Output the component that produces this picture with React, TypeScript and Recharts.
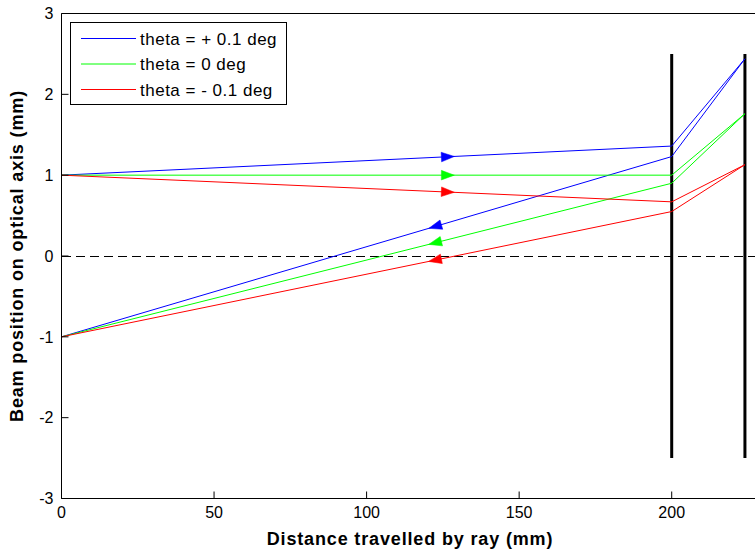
import React from 'react';
import {
  ComposedChart,
  Line,
  Scatter,
  XAxis,
  YAxis,
  ReferenceLine,
} from 'recharts';

// ray positions (mm) sampled at: start, first lens, second lens
const rayX = [0, 200, 224];
const blueUpper = [1.0, 1.36, 2.44];
const blueLower = [-1.0, 1.23, 2.44];
const greenUpper = [1.0, 1.0, 1.76];
const greenLower = [-1.0, 0.9, 1.76];
const redUpper = [1.0, 0.67, 1.13];
const redLower = [-1.0, 0.55, 1.13];

// lenses
const lensX = [200, 224];
const lensTop = 2.5;
const lensBottom = -2.5;

// direction arrows sitting on each ray
const arrowX = 124.5;
const blueArrowY = [1.224, 0.388];
const greenArrowY = [1.0, 0.183];
const redArrowY = [0.795, -0.035];
const arrowDir = [1, -1];

const xTicks = [0, 50, 100, 150, 200];
const yTicks = [-3, -2, -1, 0, 1, 2, 3];
const legendLabels = ['theta = + 0.1 deg', 'theta = 0 deg', 'theta = - 0.1 deg'];

const BLUE = '#0000ff';
const GREEN = '#00ff00';
const RED = '#ff0000';
const FONT = '"Liberation Sans", Arial, Helvetica, sans-serif';

const W = 755;
const H = 553;
const LEFT = 61.5;
const TOP = 13.5;
const BOTTOM = 498.5;
const X_MAX = 227.3;
const pxPerX = (W - LEFT) / X_MAX;
const pxPerY = (BOTTOM - TOP) / 6;

const toPoints = (xs: number[], ys: number[]) => xs.map((x, i) => ({ x, y: ys[i] }));

const rays = [
  { key: 'bu', color: BLUE, ys: blueUpper },
  { key: 'bl', color: BLUE, ys: blueLower },
  { key: 'gu', color: GREEN, ys: greenUpper },
  { key: 'gl', color: GREEN, ys: greenLower },
  { key: 'ru', color: RED, ys: redUpper },
  { key: 'rl', color: RED, ys: redLower },
];

const arrowSets = [
  { key: 'ab', color: BLUE, ys: blueArrowY, rays: [blueUpper, blueLower] },
  { key: 'ag', color: GREEN, ys: greenArrowY, rays: [greenUpper, greenLower] },
  { key: 'ar', color: RED, ys: redArrowY, rays: [redUpper, redLower] },
];

const makeArrow = (color: string) => (props: any) => {
  const { cx, cy, payload } = props;
  if (cx == null || cy == null) return <g />;
  const slope = (payload.ray[1] - payload.ray[0]) / (rayX[1] - rayX[0]);
  const angle = (Math.atan2(-slope * pxPerY, pxPerX) * 180) / Math.PI;
  const d = payload.dir;
  const len = 13;
  const half = 4.8;
  const path = `M${cx},${cy - half} L${cx + d * len},${cy} L${cx},${cy + half} Z`;
  return <path d={path} fill={color} stroke={color} strokeWidth={0.5} transform={`rotate(${angle}, ${cx}, ${cy})`} />;
};

function LegendBox() {
  const colors = [BLUE, GREEN, RED];
  return (
    <svg width={W} height={H} style={{ position: 'absolute', left: 0, top: 0, pointerEvents: 'none' }}>
      <rect x={70.5} y={22.5} width={216} height={82} fill="#fff" stroke="#000" strokeWidth={1} />
      {legendLabels.map((label, i) => (
        <g key={label}>
          <line x1={81} x2={136} y1={38.5 + i * 25.5} y2={38.5 + i * 25.5} stroke={colors[i]} strokeWidth={1} />
          <text x={140} y={44.5 + i * 25.5} fontSize={17} fontFamily={FONT} letterSpacing={0.5} fill="#000">
            {label}
          </text>
        </g>
      ))}
    </svg>
  );
}

export default function App() {
  const tickStyle = { fontSize: 16, fill: '#000', fontFamily: FONT };
  return (
    <div style={{ position: 'absolute', left: 0, top: 0, width: W, height: H, background: '#fff', overflow: 'hidden' }}>
      <ComposedChart width={W} height={H} margin={{ top: 0, right: 0, bottom: 0, left: 0 }}>
        <XAxis
          xAxisId="top"
          orientation="top"
          type="number"
          dataKey="x"
          domain={[0, X_MAX]}
          ticks={xTicks}
          height={TOP}
          tick={false}
          tickSize={-7}
          axisLine={{ stroke: '#000' }}
          tickLine={{ stroke: '#000' }}
        />
        <XAxis
          type="number"
          dataKey="x"
          domain={[0, X_MAX]}
          ticks={xTicks}
          height={H - BOTTOM}
          tickSize={-7}
          tickMargin={15}
          tick={tickStyle}
          axisLine={{ stroke: '#000' }}
          tickLine={{ stroke: '#000' }}
          label={(p: any) => (
            <text
              x={410}
              y={545}
              textAnchor="middle"
              fontSize={18}
              fontWeight="bold"
              letterSpacing={0.85}
              fontFamily={FONT}
              fill="#000"
            >
              Distance travelled by ray (mm)
            </text>
          )}
        />
        <YAxis
          type="number"
          dataKey="y"
          domain={[-3, 3]}
          ticks={yTicks}
          width={LEFT}
          tickSize={-7}
          tickMargin={15}
          tick={tickStyle}
          axisLine={{ stroke: '#000' }}
          tickLine={{ stroke: '#000' }}
          label={(p: any) => (
            <text
              x={23}
              y={256}
              transform="rotate(-90, 23, 256)"
              textAnchor="middle"
              fontSize={18}
              fontWeight="bold"
              letterSpacing={0.85}
              fontFamily={FONT}
              fill="#000"
            >
              Beam position on optical axis (mm)
            </text>
          )}
        />
        <ReferenceLine y={0} stroke="#000" strokeDasharray="9 5" strokeWidth={1} shapeRendering="crispEdges" />
        {lensX.map((lx) => (
          <Line
            key={`lens-${lx}`}
            data={[
              { x: lx, y: lensBottom },
              { x: lx, y: lensTop },
            ]}
            dataKey="y"
            stroke="#000"
            strokeWidth={3}
            dot={false}
            activeDot={false}
            isAnimationActive={false}
          />
        ))}
        {rays.map((r) => (
          <Line
            key={r.key}
            data={toPoints(rayX, r.ys)}
            dataKey="y"
            type="linear"
            stroke={r.color}
            strokeWidth={1}
            dot={false}
            activeDot={false}
            isAnimationActive={false}
          />
        ))}
        {arrowSets.map((a) => (
          <Scatter
            key={a.key}
            data={a.ys.map((y, i) => ({ x: arrowX, y, dir: arrowDir[i], ray: a.rays[i] }))}
            dataKey="y"
            fill={a.color}
            shape={makeArrow(a.color)}
            isAnimationActive={false}
          />
        ))}
      </ComposedChart>
      <LegendBox />
    </div>
  );
}
